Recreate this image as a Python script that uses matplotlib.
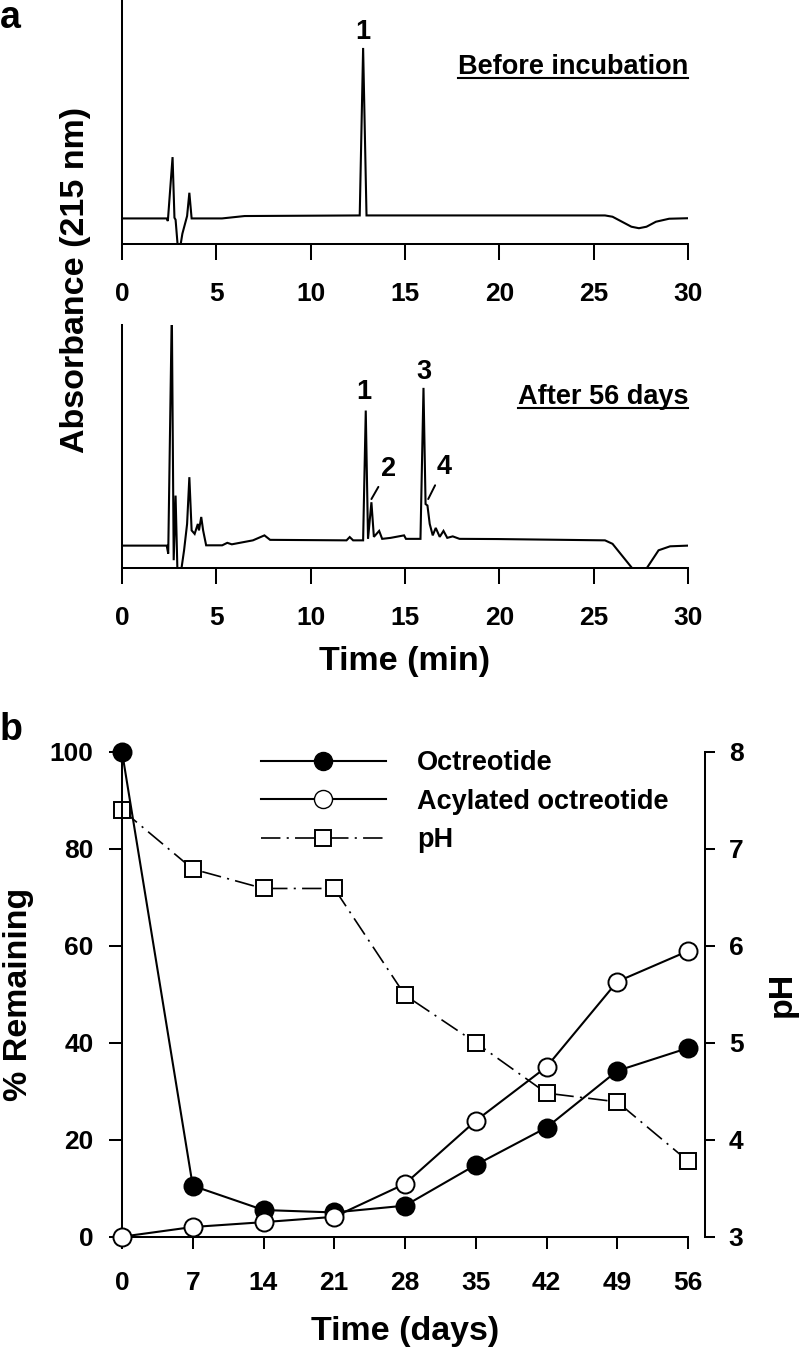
import matplotlib
matplotlib.use('Agg')
import matplotlib.pyplot as plt
from matplotlib.lines import Line2D
from matplotlib.transforms import IdentityTransform

plt.rcParams['font.family'] = ['Liberation Sans', 'DejaVu Sans']
plt.rcParams['font.weight'] = 'bold'
plt.rcParams['axes.labelweight'] = 'bold'
plt.rcParams['lines.scale_dashes'] = False

# ---------------- data ----------------
# chromatogram before incubation (time in min, absorbance arbitrary units)
time_before = [0, 2.37, 2.43, 2.68, 2.78, 2.84, 2.96, 3.08, 3.20, 3.45, 3.57, 3.69,
               5.3, 6.5, 12.6, 12.78, 12.96, 25.6, 26.0, 26.5, 27.0, 27.4, 27.8,
               28.3, 29.0, 30.0]
abs_before = [25.3, 25.3, 22.7, 86.7, 26.0, 24.0, -4.0, -4.0, 10.0, 27.7, 51.0, 25.3,
              25.3, 27.7, 28.3, 196.0, 28.3, 28.3, 27.0, 22.0, 17.0, 15.5, 17.0,
              22.0, 25.0, 25.5]

# chromatogram after 56 days
time_after = [0, 2.37, 2.45, 2.64, 2.74, 2.84, 2.94, 3.12, 3.29, 3.45, 3.57, 3.69,
              3.85, 4.02, 4.08, 4.20, 4.30, 4.46, 5.31, 5.58, 5.82, 6.94, 7.55,
              7.85, 11.9, 12.07, 12.25, 12.78, 12.92, 13.04, 13.22, 13.35, 13.63,
              13.79, 14.24, 14.95, 15.05, 15.82, 15.98, 16.09, 16.19, 16.31, 16.47,
              16.63, 16.84, 17.04, 17.24, 17.53, 17.89, 19.9, 25.6, 26.0, 27.02,
              27.4, 27.83, 28.44, 29.05, 30.0]
abs_after = [22.2, 22.2, 14.2, 260.0, 7.5, 72.5, -5.0, -5.0, 17.5, 44.0, 91.0, 37.5,
             34.0, 44.0, 37.5, 51.0, 37.5, 22.5, 22.5, 25.0, 23.5, 27.5, 32.5,
             28.0, 27.5, 30.8, 27.5, 27.5, 158.0, 29.0, 65.8, 31.0, 37.0,
             29.0, 30.0, 32.5, 29.0, 29.0, 180.8, 64.0, 62.5, 44.0, 32.5,
             40.0, 31.0, 37.0, 30.0, 31.5, 29.0, 28.8, 27.5, 24.0, 0.0,
             -20.0, 0.0, 17.5, 21.5, 22.2]

# peak labels: (label, time, height)
peaks_before = [('1', 12.78, 205.0)]
peaks_after = [('1', 12.82, 169.2), ('3', 15.98, 190.2)]
# labelled with leader lines: (label, text time, text height, peak time, peak height)
peaks_after_leader = [('2', 14.14, 92.5, 13.22, 69.0), ('4', 17.08, 94.2, 16.23, 69.0)]

days = [0, 7, 14, 21, 28, 35, 42, 49, 56]
octreotide = [100, 10.5, 5.5, 5.0, 6.4, 14.8, 22.5, 34.2, 38.9]
acylated = [0, 2.0, 3.0, 4.1, 10.9, 23.9, 35.0, 52.6, 58.9]
ph = [7.4, 6.79, 6.59, 6.59, 5.49, 5.0, 4.48, 4.39, 3.78]

chrom_xticks = [0, 5, 10, 15, 20, 25, 30]
day_ticks = [0, 7, 14, 21, 28, 35, 42, 49, 56]
pct_ticks = [0, 20, 40, 60, 80, 100]
ph_ticks = [3, 4, 5, 6, 7, 8]

# ---------------- figure ----------------
W, H = 799, 1350
fig = plt.figure(figsize=(W / 100, H / 100), dpi=100)

def ax_rect(left, top, right, bottom):
    return [left / W, 1 - bottom / H, (right - left) / W, (bottom - top) / H]

ax1 = fig.add_axes(ax_rect(122, 0, 688, 243.7))
ax2c = fig.add_axes(ax_rect(122, 325, 688, 567.7))
axb = fig.add_axes(ax_rect(122, 751.7, 688, 1236.7))

SPW = 1.45
TICK_FS = 19
LABEL_FS = 24.5

for ax, t, a in [(ax1, time_before, abs_before), (ax2c, time_after, abs_after)]:
    ax.plot(t, a, color='black', lw=1.5, solid_joinstyle='miter')
    ax.set_xlim(0, 30)
    ax.set_ylim(0, 244)
    ax.set_xticks(chrom_xticks)
    ax.set_yticks([])
    for s in ['top', 'right']:
        ax.spines[s].set_visible(False)
    for s in ['left', 'bottom']:
        ax.spines[s].set_linewidth(SPW)
    ax.tick_params(axis='x', direction='out', length=11.3, width=SPW, pad=16,
                   labelsize=TICK_FS)

for lab, tx, hy in peaks_before:
    ax1.text(tx, hy, lab, ha='center', va='baseline', fontsize=19.5)
for lab, tx, hy in peaks_after:
    ax2c.text(tx, hy, lab, ha='center', va='baseline', fontsize=19.5)
for lab, tx, hy, px, py in peaks_after_leader:
    ax2c.annotate(lab, xy=(px, py), xytext=(tx, hy), ha='center', va='baseline',
                  fontsize=19.5,
                  arrowprops=dict(arrowstyle='-', lw=1.4, color='black',
                                  shrinkA=2, shrinkB=0))

t_before = ax1.text(30, 170.3, 'Before incubation', ha='right', va='baseline', fontsize=19.5)
t_after = ax2c.text(30, 164.2, 'After 56 days', ha='right', va='baseline', fontsize=19.5)

ax2c.set_xlabel('Time (min)', fontsize=LABEL_FS)
ax2c.xaxis.set_label_coords(0.5, (567.7 - 670) / 242.7)
ax2c.xaxis.label.set_va('baseline')

fig.text(84 / W, 1 - 280 / H, 'Absorbance (215 nm)', rotation=90, rotation_mode='anchor',
         ha='center', va='baseline', fontsize=LABEL_FS, fontweight='bold')

fig.text(0.0, 1.0, 'a', fontsize=27, ha='left', va='top')
fig.text(0.0, 1 - 740 / H, 'b', fontsize=27, ha='left', va='baseline')

# ---------------- panel b ----------------
axp = axb.twinx()
axb.set_zorder(axp.get_zorder() + 1)
axb.patch.set_visible(False)

axp.plot(days, ph, color='black', lw=1.2, ls=(0, (14, 4.5, 1.5, 4.5)), marker='s',
         ms=12, mfc='white', mec='black', mew=1.4, clip_on=False, zorder=3)
axb.plot(days, octreotide, color='black', lw=1.5, marker='o', ms=13, mfc='black',
         mec='black', mew=1.4, clip_on=False, zorder=3)
axb.plot(days, acylated, color='black', lw=1.5, marker='o', ms=13, mfc='white',
         mec='black', mew=1.4, clip_on=False, zorder=4)

axb.set_xlim(0, 56)
axb.set_ylim(0, 100)
axp.set_ylim(3, 8)
axb.set_xticks(day_ticks)
axb.set_yticks(pct_ticks)
axp.set_yticks(ph_ticks)

for s in ['top', 'right']:
    axb.spines[s].set_visible(False)
for s in ['left', 'bottom']:
    axb.spines[s].set_linewidth(SPW)
for s in ['top', 'left', 'bottom']:
    axp.spines[s].set_visible(False)
axp.spines['right'].set_linewidth(SPW)
axp.spines['right'].set_position(('outward', 12.2))

axb.tick_params(axis='x', direction='out', length=8.9, width=SPW, pad=16, labelsize=TICK_FS)
axb.tick_params(axis='y', direction='out', length=9.1, width=SPW, pad=11.3, labelsize=TICK_FS)
axp.tick_params(axis='y', direction='out', length=7.2, width=SPW, pad=10, labelsize=TICK_FS)

axb.set_xlabel('Time (days)', fontsize=LABEL_FS)
axb.xaxis.set_label_coords(0.5, (1236.7 - 1340) / 485)
axb.xaxis.label.set_va('baseline')

axb.set_ylabel('% Remaining', fontsize=LABEL_FS)
axb.yaxis.label.set_rotation_mode('anchor')
axb.yaxis.label.set_ha('center')
axb.yaxis.label.set_va('baseline')
axb.yaxis.set_label_coords((26.8 - 122) / 566, 0.5)

axp.set_ylabel('pH', fontsize=LABEL_FS, rotation=90)
axp.yaxis.label.set_rotation_mode('anchor')
axp.yaxis.label.set_ha('center')
axp.yaxis.label.set_va('baseline')
axp.yaxis.set_label_coords((791 - 122) / 566, 0.5)

handles = [
    Line2D([], [], color='black', lw=1.5, marker='o', ms=13, mfc='black', mec='black'),
    Line2D([], [], color='black', lw=1.5, marker='o', ms=13, mfc='white', mec='black'),
    Line2D([], [], color='black', lw=1.2, ls=(0, (14, 4.5, 1.5, 4.5)), marker='s', ms=12,
           mfc='white', mec='black', mew=1.4),
]
labels = ['Octreotide', 'Acylated octreotide', 'pH']
axb.legend(handles, labels, loc='upper left', bbox_to_anchor=((261 - 122) / 566, 1.003),
           frameon=False, handlelength=4.6, handletextpad=1.17, labelspacing=0.46,
           borderpad=0, borderaxespad=0, fontsize=19.5, numpoints=1)

# underlines for the chromatogram titles
fig.canvas.draw()
for txt, ax, base, off in [(t_before, ax1, 170.3, 4.5), (t_after, ax2c, 164.2, 3.5)]:
    bb = txt.get_window_extent()
    yb = ax.transData.transform((0, base))[1] - off
    fig.add_artist(Line2D([bb.x0, bb.x1], [yb, yb], color='black', lw=1.5,
                          transform=IdentityTransform()))

fig.savefig('out.png', dpi=100)
